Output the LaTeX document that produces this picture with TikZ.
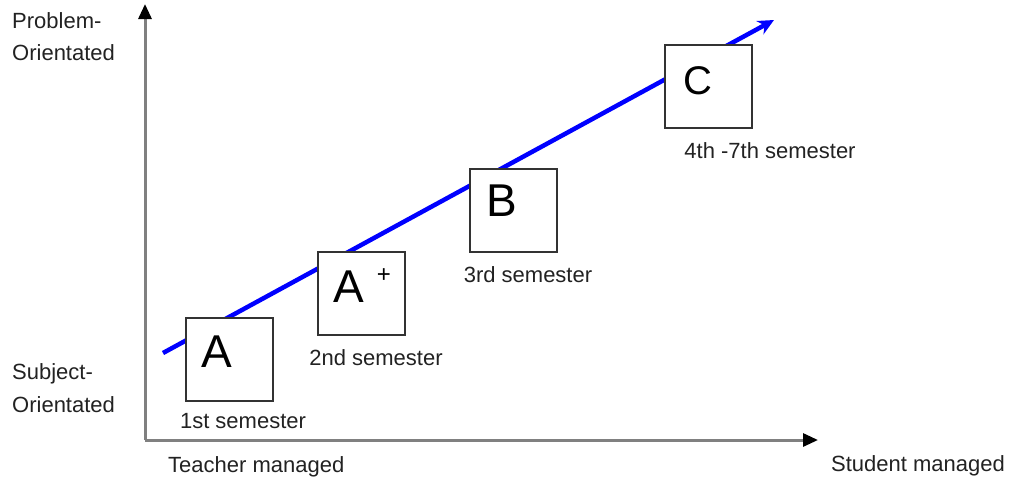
\documentclass[tikz,border=0pt]{standalone}
\usepackage{fontspec}
\setmainfont{Liberation Sans}
\usetikzlibrary{arrows.meta}
\begin{document}
\begin{tikzpicture}[x=1pt,y=-1pt,
  axis/.style={draw={rgb,255:red,128;green,128;blue,128},line width=3pt,-{Triangle[black,length=15pt,width=13pt]}},
  trend/.style={draw={rgb,255:red,0;green,0;blue,255},line width=4.5pt,-{Stealth[length=16pt,width=15pt]}},
  stagebox/.style={draw={rgb,255:red,51;green,51;blue,51},line width=2pt,fill=white,minimum width=87pt,minimum height=83pt,inner sep=0pt},
  grade/.style={inner sep=0pt,font=\fontsize{46}{50}\selectfont},
  lbl/.style={inner sep=0pt,anchor=base west,text={rgb,255:red,34;green,34;blue,34},font=\fontsize{22}{26}\selectfont},
  lblc/.style={inner sep=0pt,anchor=base,text={rgb,255:red,34;green,34;blue,34},font=\fontsize{22}{26}\selectfont}]
\useasboundingbox (0,0) rectangle (1015,483);
% axes
\coordinate (origin) at (145,440);
\coordinate (ytop) at (145,4);
\coordinate (xend) at (818,440);
\draw[axis] (origin) -- (ytop);
\draw[axis] (origin) -- (xend);
% trend line
\coordinate (tstart) at (163,353);
\coordinate (tend) at (774,20);
\draw[trend] (tstart) -- (tend);
% boxes
\node[stagebox] (boxA) at (229.5,359) {};
\node[stagebox] (boxAp) at (361,293.5) {};
\node[stagebox] (boxB) at (513,210.5) {};
\node[stagebox] (boxC) at (708,86) {};
% letters
\node[grade] (gA) at (217,352) {A};
\node[grade] (gAp) at (349,287) {A};
\node[inner sep=0pt,font=\fontsize{24}{26}\selectfont] (plus) at (384,276) {+};
\node[grade] (gB) at (502,201) {B};
\node[grade,font=\fontsize{40}{44}\selectfont] (gC) at (698,81) {C};
% semester labels
\node[lblc] (s1) at (243,428) {1st semester};
\node[lblc] (s2) at (376,365) {2nd semester};
\node[lblc] (s3) at (528,282) {3rd semester};
\node[lblc] (s4) at (770,158) {4th -7th semester};
% axis labels
\node[lbl] (p1) at (12,28) {Problem-};
\node[lbl] (p2) at (12,60) {Orientated};
\node[lbl] (q1) at (12,379) {Subject-};
\node[lbl] (q2) at (12,412) {Orientated};
\node[lbl] (tm) at (168,472) {Teacher managed};
\node[lbl] (sm) at (831,471) {Student managed};
\end{tikzpicture}
\end{document}
